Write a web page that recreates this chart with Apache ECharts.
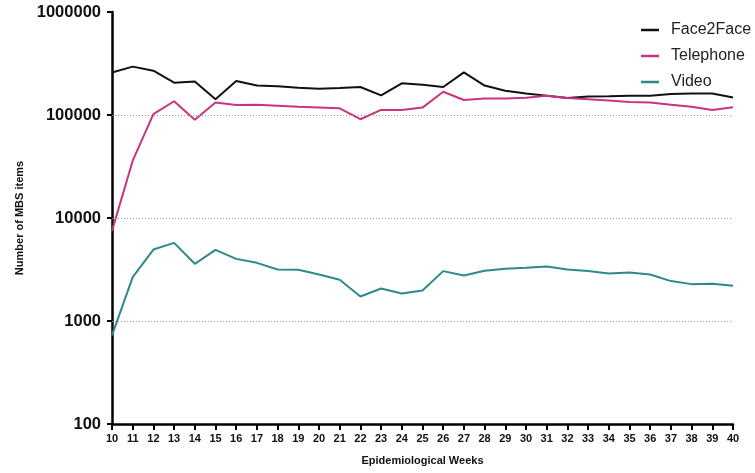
<!DOCTYPE html>
<html>
<head>
<meta charset="utf-8">
<script src="https://cdn.jsdelivr.net/npm/echarts@6/dist/echarts.min.js"></script>
<style>html,body{margin:0;padding:0;background:#fff;}#c{width:755px;height:473px;}</style>
</head>
<body>
<div id="c"></div>
<script>
var weeks = ['10','11','12','13','14','15','16','17','18','19','20','21','22','23','24','25','26','27','28','29','30','31','32','33','34','35','36','37','38','39','40'];
var face2face = [259000,295000,269000,206000,212000,142000,214000,193000,190000,184000,180000,183000,187000,155000,203000,197000,187000,259000,193000,172000,162000,154000,146000,151000,152000,154000,154000,160000,162000,162000,148000];
var telephone = [7500,36000,102000,136000,90000,132000,125000,126000,123000,120000,118000,116000,91000,112000,112000,118000,168000,140000,145000,145000,147000,154000,146000,142000,138000,134000,132000,126000,120000,112000,119000];
var video = [726,2670,4940,5730,3590,4900,4010,3670,3160,3140,2830,2510,1730,2070,1850,1980,3050,2770,3070,3210,3280,3380,3160,3050,2890,2960,2830,2440,2280,2300,2200];
var gridValues = [1000,10000,100000];
var seriesNames = ['Face2Face','Telephone','Video'];

var font = 'Liberation Sans, Arial, sans-serif';
var chart = echarts.init(document.getElementById('c'), null, {renderer:'canvas'});
chart.setOption({
  animation:false,
  backgroundColor:'#fff',
  grid:{left:112,right:22,top:12,bottom:49,containLabel:false},
  legend:{
    orient:'vertical', left:636, top:17, itemWidth:18, itemHeight:2.5, itemGap:10, icon:'rect',
    textStyle:{fontFamily:font,fontSize:16,color:'#222',padding:[0,0,0,7],lineHeight:16},
    data:seriesNames
  },
  xAxis:{
    type:'category', data:weeks, boundaryGap:false,
    name:'Epidemiological Weeks', nameLocation:'middle', nameGap:31,
    nameTextStyle:{fontFamily:font,fontSize:11,fontWeight:'bold',color:'#111'},
    axisLine:{lineStyle:{color:'#000',width:2.5}},
    axisTick:{show:true,interval:0,length:6,lineStyle:{color:'#000',width:2}},
    axisLabel:{interval:0,margin:9,fontFamily:font,fontSize:11,fontWeight:'bold',color:'#111'},
    splitLine:{show:false}
  },
  yAxis:{
    type:'log', logBase:10, min:100, max:1000000,
    name:'Number of MBS items', nameLocation:'middle', nameGap:73, nameRotate:90,
    nameTextStyle:{fontFamily:font,fontSize:11,fontWeight:'bold',color:'#111'},
    axisLine:{show:true,lineStyle:{color:'#000',width:2.5}},
    axisTick:{show:true,length:5,lineStyle:{color:'#000',width:2}},
    axisLabel:{margin:11,fontFamily:font,fontSize:16.5,fontWeight:'bold',color:'#111',
      formatter:function(v){return String(Math.round(v));}},
    splitLine:{show:false}
  },
  series:[
    {name:seriesNames[0],type:'line',data:face2face,symbol:'none',lineStyle:{width:2,color:'#111'},itemStyle:{color:'#111'}},
    {name:seriesNames[1],type:'line',data:telephone,symbol:'none',lineStyle:{width:2,color:'#c8357f'},itemStyle:{color:'#c8357f'}},
    {name:seriesNames[2],type:'line',data:video,symbol:'none',lineStyle:{width:2,color:'#2e8a8a'},itemStyle:{color:'#2e8a8a'},
     markLine:{silent:true,symbol:'none',label:{show:false},
       lineStyle:{color:'#999',type:[1,2],width:1},
       data:gridValues.map(function(g){return {yAxis:g};})}}
  ]
});
</script>
</body>
</html>
